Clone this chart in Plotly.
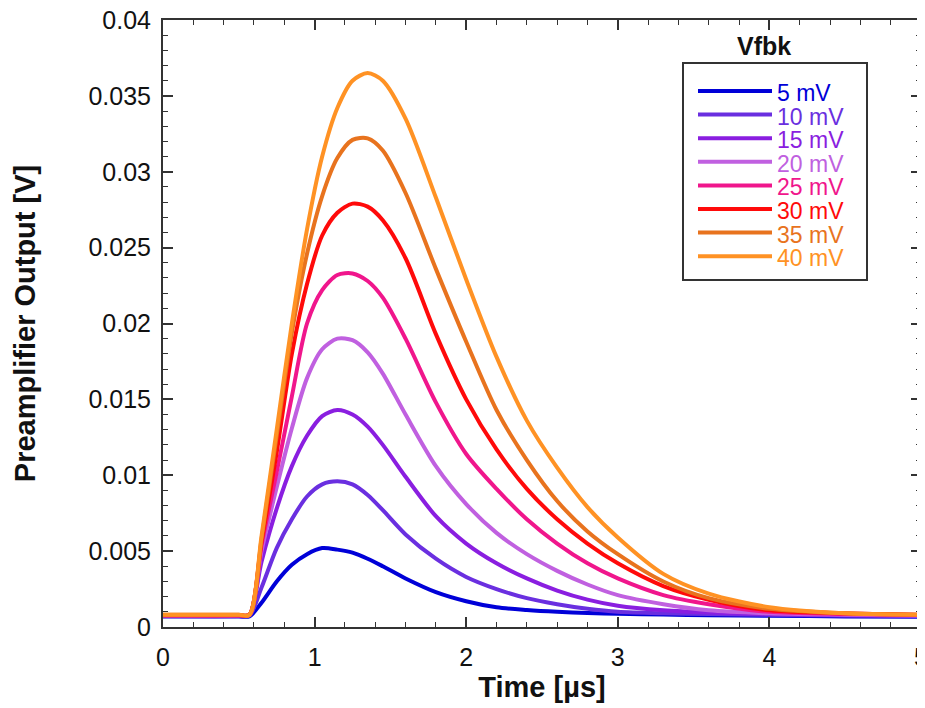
import plotly.graph_objects as go

# ---------------- data ----------------
time_us = [0, 0.5, 0.57, 0.65, 0.75, 0.85, 0.95, 1.05, 1.15, 1.25, 1.35, 1.45,
           1.6, 1.8, 2.0, 2.2, 2.4, 2.6, 2.8, 3.0, 3.3, 3.6, 4.0, 4.5, 5.0]

v_5mV = [0.0007, 0.0007, 0.0007, 0.0016, 0.0030, 0.0041, 0.0048, 0.0052, 0.0051, 0.0049,
         0.0045, 0.0040, 0.0032, 0.0023, 0.0017, 0.0013, 0.00112, 0.0010, 0.00092, 0.00088,
         0.00082, 0.00078, 0.00074, 0.0007, 0.00068]
v_10mV = [0.00072, 0.00072, 0.00075, 0.0026, 0.0052, 0.0071, 0.0086, 0.0094, 0.0096, 0.0094,
          0.0087, 0.0077, 0.0061, 0.0045, 0.0033, 0.0025, 0.0019, 0.0015, 0.0012, 0.0010,
          0.0009, 0.00085, 0.0008, 0.00075, 0.00072]
v_15mV = [0.00074, 0.00074, 0.0008, 0.0043, 0.0078, 0.0106, 0.0126, 0.0139, 0.0143, 0.0140,
          0.0132, 0.0120, 0.0099, 0.0073, 0.0055, 0.0042, 0.0032, 0.0024, 0.0018, 0.0014,
          0.0011, 0.00095, 0.00085, 0.00078, 0.00074]
v_20mV = [0.00075, 0.00075, 0.0008, 0.0050, 0.0092, 0.0131, 0.0164, 0.0183, 0.0190, 0.0189,
          0.0181, 0.0167, 0.0140, 0.0106, 0.0081, 0.0062, 0.0048, 0.0037, 0.0028, 0.0021,
          0.0015, 0.0011, 0.0009, 0.0008, 0.00075]
v_25mV = [0.00077, 0.00077, 0.0008, 0.0054, 0.0102, 0.0152, 0.0200, 0.0222, 0.0232, 0.0233,
          0.0228, 0.0217, 0.0190, 0.0148, 0.0114, 0.0091, 0.0071, 0.0055, 0.0042, 0.0032,
          0.0021, 0.0015, 0.0010, 0.00085, 0.00078]
v_30mV = [0.00078, 0.00078, 0.0008, 0.0056, 0.0115, 0.0180, 0.0226, 0.0258, 0.0273, 0.0279,
          0.0277, 0.0268, 0.0243, 0.0193, 0.0150, 0.0117, 0.0091, 0.0071, 0.0055, 0.0042,
          0.0027, 0.0018, 0.0011, 0.0009, 0.0008]
v_35mV = [0.0008, 0.0008, 0.0008, 0.0058, 0.0126, 0.0194, 0.0246, 0.0284, 0.0309, 0.0321,
          0.0322, 0.0314, 0.0286, 0.0236, 0.0188, 0.0143, 0.0110, 0.0083, 0.0063, 0.0048,
          0.0030, 0.0019, 0.0012, 0.0009, 0.0008]
v_40mV = [0.0008, 0.0008, 0.0008, 0.0060, 0.0130, 0.0200, 0.0262, 0.0310, 0.0342, 0.0360,
          0.0365, 0.0360, 0.0335, 0.0283, 0.0229, 0.0178, 0.0136, 0.0105, 0.0079, 0.0059,
          0.0035, 0.0022, 0.0013, 0.0009, 0.0008]

series_names = ["5 mV", "10 mV", "15 mV", "20 mV", "25 mV", "30 mV", "35 mV", "40 mV"]
series_values = [v_5mV, v_10mV, v_15mV, v_20mV, v_25mV, v_30mV, v_35mV, v_40mV]
series_colors = ["#0000d8", "#6a2fe0", "#8a1ee0", "#c060e0", "#f0168c", "#ff0a0a",
                 "#e8731e", "#ff9224"]

x_tickvals = [0, 1, 2, 3, 4, 5]
x_ticktext = ["0", "1", "2", "3", "4", "5"]
y_tickvals = [0, 0.005, 0.01, 0.015, 0.02, 0.025, 0.03, 0.035, 0.04]
y_ticktext = ["0", "0.005", "0.01", "0.015", "0.02", "0.025", "0.03", "0.035", "0.04"]

legend_title = "Vfbk"
x_title = "Time [µs]"
y_title = "Preamplifier Output [V]"

# ---------------- figure ----------------
FONT = "Liberation Sans, Arial, Helvetica, sans-serif"
AXC = "#333333"

fig = go.Figure()
for name, vals, col in zip(series_names, series_values, series_colors):
    fig.add_trace(go.Scatter(
        x=time_us, y=vals, mode="lines", name=name,
        line=dict(color=col, width=4, shape="spline", smoothing=0.8),
        showlegend=False,
    ))

axis_common = dict(
    showgrid=False, zeroline=False, showline=True, linecolor=AXC, linewidth=2,
    mirror="allticks", ticks="inside", ticklen=10, tickwidth=1.5, tickcolor=AXC,
    tickfont=dict(family=FONT, size=25, color="#111111"),
    automargin=False, ticklabeloverflow="allow",
)

fig.update_xaxes(
    range=[0, 5], tickvals=x_tickvals, ticktext=x_ticktext,
    minor=dict(ticks="inside", ticklen=5, tickwidth=1.2, tickcolor=AXC, dtick=0.2, showgrid=False),
    title=dict(text=x_title, font=dict(family=FONT, size=29, color="#111111",
                                       weight="bold"), standoff=7),
    ticklabelstandoff=7,
    **axis_common,
)
fig.update_yaxes(
    range=[0, 0.04], tickvals=y_tickvals, ticktext=y_ticktext,
    minor=dict(ticks="inside", ticklen=5, tickwidth=1.2, tickcolor=AXC, dtick=0.001, showgrid=False),
    title=dict(text=y_title, font=dict(family=FONT, size=29, color="#111111",
                                       weight="bold"), standoff=44),
    ticklabelstandoff=5,
    **axis_common,
)

# ---------------- manual legend (paper coordinates) ----------------
PW, PH = 758.0, 607.0   # plot-area size in px
L, T = 163.0, 20.0      # plot-area top-left in page px


def px_to_paper(px, py):
    return (px - L) / PW, (PH + T - py) / PH


bx0, by0 = px_to_paper(683, 63)
bx1, by1 = px_to_paper(867, 280)
fig.add_shape(type="rect", xref="paper", yref="paper", x0=bx0, y0=by1, x1=bx1, y1=by0,
              line=dict(color=AXC, width=2), fillcolor="white", layer="above")

tx, ty = px_to_paper(764, 46)
fig.add_annotation(xref="paper", yref="paper", x=tx, y=ty, text=f"<b>{legend_title}</b>",
                   showarrow=False, font=dict(family=FONT, size=25, color="#111111"),
                   xanchor="center", yanchor="middle")

row0, step = 91.0, 23.6
for i, (name, col) in enumerate(zip(series_names, series_colors)):
    ypx = row0 + i * step
    lx0, ly = px_to_paper(698, ypx)
    lx1, _ = px_to_paper(772, ypx)
    fig.add_shape(type="line", xref="paper", yref="paper", x0=lx0, x1=lx1, y0=ly, y1=ly,
                  line=dict(color=col, width=4), layer="above")
    txp, typ = px_to_paper(776, ypx + 2)
    fig.add_annotation(xref="paper", yref="paper", x=txp, y=typ, text=name, showarrow=False,
                       font=dict(family=FONT, size=23, color=col),
                       xanchor="left", yanchor="middle", borderpad=0)

# The page body has an 8 px default margin: shrink the figure so that the
# plot area lands at the same page pixels as in the reference.
fig.update_layout(
    width=917, height=700,
    margin=dict(l=155, r=4, t=12, b=81),
    paper_bgcolor="white", plot_bgcolor="white",
    showlegend=False,
)

fig.write_html("out.html")
